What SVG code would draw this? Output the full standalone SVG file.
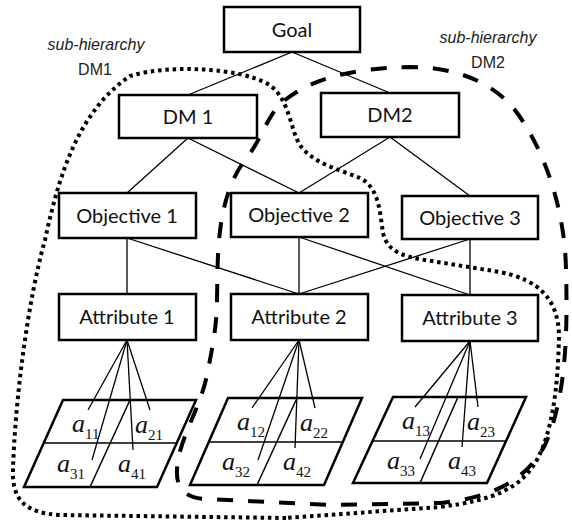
<svg xmlns="http://www.w3.org/2000/svg" width="572" height="521" viewBox="0 0 572 521">
<style>
.box{fill:#fff;stroke:#000;stroke-width:2.5}
.lbl{font-family:Lato,"Open Sans",sans-serif;font-size:20px;fill:#111;text-anchor:middle}
.con{stroke:#000;stroke-width:1.3;fill:none}
.para{fill:#fff;stroke:#000;stroke-width:2.5;stroke-linejoin:miter}
.grid{stroke:#000;stroke-width:1.5;fill:none}
.alt{font-family:"Liberation Serif","DejaVu Serif",serif;fill:#111}
.a{font-style:italic;font-size:26px}
.s{font-size:15px}
.sub{font-family:"Liberation Sans",Arial,sans-serif;font-size:16px;fill:#222;text-anchor:middle}
.dot{fill:none;stroke:#000;stroke-width:4;stroke-dasharray:3.5 3.8}
.dash{fill:none;stroke:#000;stroke-width:4;stroke-dasharray:16 15}
</style>
<g id="regions">
<path class="dot" d="M286,518 L60,515 C25,513 12,500 13,470 C15,400 28,300 45,240 C60,170 80,110 130,76 C170,64 240,68 268,84 C290,98 290,130 300,145 C312,163 340,170 360,178 C380,188 380,215 383,233 C387,250 400,256 425,260 L500,272 C540,280 558,300 559,335 C558,390 552,430 538,458 C522,488 495,500 440,507 Z"/>
<path class="dash" d="M217,300 C218,260 215,200 245,160 C262,140 268,112 285,100 C310,80 350,68 410,67 C460,67 495,85 515,110 C545,150 565,210 566,270 C568,340 565,400 545,445 C525,482 490,498 440,503 L330,505 L205,499 C185,498 176,488 177,470 C178,440 200,410 207,375 C212,350 217,325 217,300 Z"/>
<text class="sub" x="96" y="50" font-style="italic">sub-hierarchy</text>
<text class="sub" x="95" y="75">DM1</text>
<text class="sub" x="488" y="43" font-style="italic">sub-hierarchy</text>
<text class="sub" x="488" y="68">DM2</text>
</g>
<g id="connectors">
<line class="con" x1="292" y1="52" x2="188" y2="95"/>
<line class="con" x1="292" y1="52" x2="390" y2="93"/>
<line class="con" x1="188" y1="138" x2="127" y2="193"/>
<line class="con" x1="188" y1="138" x2="299" y2="193"/>
<line class="con" x1="390" y1="137" x2="299" y2="193"/>
<line class="con" x1="390" y1="137" x2="470" y2="196"/>
<line class="con" x1="127" y1="238" x2="127" y2="294"/>
<line class="con" x1="127" y1="238" x2="299" y2="294"/>
<line class="con" x1="299" y1="237" x2="299" y2="294"/>
<line class="con" x1="299" y1="237" x2="470" y2="295"/>
<line class="con" x1="470" y1="239" x2="299" y2="294"/>
<line class="con" x1="470" y1="239" x2="470" y2="295"/>
</g>
<g id="goal"><rect class="box" x="224" y="7" width="136" height="45"/><text class="lbl" x="292" y="37">Goal</text></g>
<g id="dm1"><rect class="box" x="119" y="95" width="138" height="43"/><text class="lbl" x="188" y="124">DM 1</text></g>
<g id="dm2"><rect class="box" x="321" y="93" width="138" height="44"/><text class="lbl" x="390" y="122">DM2</text></g>
<g id="objective1"><rect class="box" x="59" y="193" width="137" height="45"/><text class="lbl" x="127" y="223">Objective 1</text></g>
<g id="objective2"><rect class="box" x="231" y="193" width="137" height="44"/><text class="lbl" x="299" y="222">Objective 2</text></g>
<g id="objective3"><rect class="box" x="402" y="196" width="136" height="43"/><text class="lbl" x="470" y="225">Objective 3</text></g>
<g id="attribute1"><rect class="box" x="59" y="294" width="137" height="46"/><text class="lbl" x="127" y="324">Attribute 1</text></g>
<g id="attribute2"><rect class="box" x="231" y="294" width="137" height="46"/><text class="lbl" x="299" y="324">Attribute 2</text></g>
<g id="attribute3"><rect class="box" x="402" y="295" width="136" height="46"/><text class="lbl" x="470" y="325">Attribute 3</text></g>
<g id="alternatives1">
<polygon class="para" points="63,400 196,400 157,487 24,487"/>
<line class="grid" x1="43.7" y1="443" x2="176.7" y2="443"/>
<line class="grid" x1="130" y1="400" x2="90" y2="487"/>
<line class="con" x1="127" y1="340" x2="88" y2="410"/>
<line class="con" x1="127" y1="340" x2="92" y2="460"/>
<line class="con" x1="127" y1="340" x2="133" y2="450"/>
<line class="con" x1="127" y1="340" x2="150" y2="410"/>
<text class="alt" x="72" y="432"><tspan class="a">a</tspan><tspan class="s" dy="7">11</tspan></text>
<text class="alt" x="135" y="433"><tspan class="a">a</tspan><tspan class="s" dy="7">21</tspan></text>
<text class="alt" x="57" y="472"><tspan class="a">a</tspan><tspan class="s" dy="7">31</tspan></text>
<text class="alt" x="118" y="472"><tspan class="a">a</tspan><tspan class="s" dy="7">41</tspan></text>
</g>
<g id="alternatives2">
<polygon class="para" points="228,398 362,398 324,485 190,485"/>
<line class="grid" x1="208.8" y1="442" x2="342.8" y2="442"/>
<line class="grid" x1="297" y1="398" x2="257" y2="485"/>
<line class="con" x1="299" y1="340" x2="252" y2="408"/>
<line class="con" x1="299" y1="340" x2="258" y2="460"/>
<line class="con" x1="299" y1="340" x2="295" y2="448"/>
<line class="con" x1="299" y1="340" x2="315" y2="408"/>
<text class="alt" x="237" y="430"><tspan class="a">a</tspan><tspan class="s" dy="7">12</tspan></text>
<text class="alt" x="300" y="431"><tspan class="a">a</tspan><tspan class="s" dy="7">22</tspan></text>
<text class="alt" x="222" y="470"><tspan class="a">a</tspan><tspan class="s" dy="7">32</tspan></text>
<text class="alt" x="283" y="470"><tspan class="a">a</tspan><tspan class="s" dy="7">42</tspan></text>
</g>
<g id="alternatives3">
<polygon class="para" points="393,397 526,397 487,483 353,483"/>
<line class="grid" x1="373" y1="441" x2="506" y2="441"/>
<line class="grid" x1="458" y1="397" x2="420" y2="483"/>
<line class="con" x1="470" y1="341" x2="415" y2="407"/>
<line class="con" x1="470" y1="341" x2="420" y2="459"/>
<line class="con" x1="470" y1="341" x2="462" y2="447"/>
<line class="con" x1="470" y1="341" x2="478" y2="407"/>
<text class="alt" x="402" y="429"><tspan class="a">a</tspan><tspan class="s" dy="7">13</tspan></text>
<text class="alt" x="467" y="430"><tspan class="a">a</tspan><tspan class="s" dy="7">23</tspan></text>
<text class="alt" x="387" y="469"><tspan class="a">a</tspan><tspan class="s" dy="7">33</tspan></text>
<text class="alt" x="448" y="469"><tspan class="a">a</tspan><tspan class="s" dy="7">43</tspan></text>
</g>
</svg>
